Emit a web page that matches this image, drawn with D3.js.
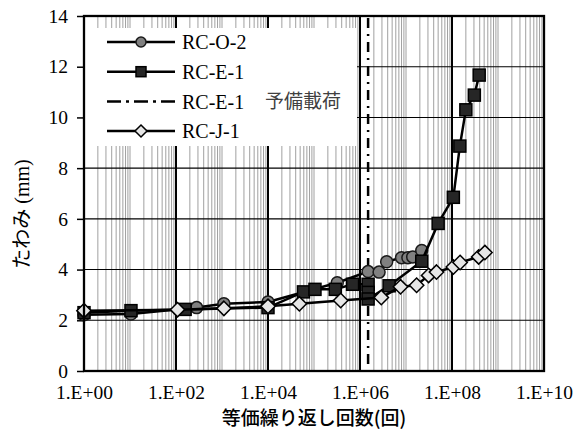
<!DOCTYPE html>
<html>
<head>
<meta charset="utf-8">
<script src="https://cdn.jsdelivr.net/npm/d3@7"></script>
<style>
  body { margin: 0; background: #fff; }
  svg { display: block; }
  .serif { font-family: "Liberation Serif", "Times New Roman", "DejaVu Serif", serif; }
  .sans { font-family: "Noto Sans CJK JP", "Noto Sans", sans-serif; }
</style>
</head>
<body>
<svg id="chart" width="576" height="432"></svg>
<script>
"use strict";

// RC-O-2 (gray circles)
var oN = [1, 10.5, 280, 1100, 1e4, 3.2e5, 1.5e6, 2.6e6, 3.8e6, 8e6, 1.1e7, 1.4e7, 2.2e7];
var oV = [2.22, 2.25, 2.5, 2.65, 2.72, 3.48, 3.92, 3.9, 4.31, 4.47, 4.47, 4.5, 4.75];
// RC-E-1 (dark squares)
var eN = [1, 10.5, 158, 1e4, 5.9e4, 1.05e5, 2.9e5, 6.9e5, 1.5e6, 1.5e6, 1.5e6, 4.3e6, 2.2e7, 5e7, 1.07e8, 1.48e8, 2e8, 3.06e8, 3.9e8];
var eV = [2.3, 2.38, 2.43, 2.5, 3.12, 3.22, 3.22, 3.42, 3.42, 3.1, 2.84, 3.36, 4.33, 5.82, 6.85, 8.87, 10.3, 10.88, 11.67];
// RC-J-1 (light diamonds)
var jN = [1, 108, 1100, 1e4, 4.8e4, 3.8e5, 2.9e6, 7.6e6, 1.7e7, 3.1e7, 4.6e7, 1.07e8, 1.5e8, 3.8e8, 5.2e8];
var jV = [2.38, 2.42, 2.47, 2.55, 2.65, 2.78, 2.9, 3.32, 3.38, 3.77, 3.9, 4.1, 4.28, 4.5, 4.67];
// RC-E-1 preload (vertical dash-dot)
var preN = 1.5e6;

var xTicks = [1, 1e2, 1e4, 1e6, 1e8, 1e10];
var yTicks = [0, 2, 4, 6, 8, 10, 12, 14];
var legendLabels = ["RC-O-2", "RC-E-1", "RC-E-1", "RC-J-1"];
var preLabel = "予備載荷";
var xTitle = "等価繰り返し回数(回)";

(() => {
    var svg = d3.select("#chart");
    var pl = 84, pr = 544, pt = 16, pb = 371;

    var x = d3.scaleLog().domain([1, 1e10]).range([pl, pr]);
    var y = d3.scaleLinear().domain([0, 14]).range([pb, pt]);

    // minor vertical grid
    var minor = [];
    for (var k = 0; k < 10; k++) {
        for (var m = 1; m <= 9; m++) {
            if (m === 1 && k % 2 === 0) continue;
            minor.push(m * Math.pow(10, k));
        }
    }
    svg.append("g").selectAll("line").data(minor).enter().append("line")
        .attr("x1", d => x(d)).attr("x2", d => x(d))
        .attr("y1", pt).attr("y2", pb)
        .attr("stroke", "#a0a0a0").attr("stroke-width", 1);

    // horizontal grid
    svg.append("g").selectAll("line").data(yTicks.slice(1, -1)).enter().append("line")
        .attr("x1", pl).attr("x2", pr)
        .attr("y1", d => y(d)).attr("y2", d => y(d))
        .attr("stroke", "#000").attr("stroke-width", 1.1);

    // major vertical grid
    svg.append("g").selectAll("line").data(xTicks.slice(1, -1)).enter().append("line")
        .attr("x1", d => x(d)).attr("x2", d => x(d))
        .attr("y1", pt).attr("y2", pb)
        .attr("stroke", "#000").attr("stroke-width", 2);

    // legend box (covers grid)
    svg.append("rect").attr("x", pl + 1).attr("y", 28).attr("width", 357 - pl - 1).attr("height", 118)
        .attr("fill", "#fff");

    // axes
    var yAxis = svg.append("g").attr("transform", "translate(" + pl + ",0)")
        .call(d3.axisLeft(y).tickValues(yTicks).tickSize(7).tickPadding(9));
    yAxis.attr("font-family", null).attr("font-size", null);
    yAxis.select(".domain").remove();
    yAxis.selectAll("line").attr("stroke", "#000").attr("stroke-width", 1.5);
    yAxis.selectAll("text").attr("class", "serif").style("font-size", "19.5px").attr("fill", "#000");

    var xAxis = svg.append("g").attr("transform", "translate(0," + pb + ")")
        .call(d3.axisBottom(x).tickValues(xTicks).tickSize(0).tickPadding(14)
            .tickFormat(d => "1.E+" + String(Math.round(Math.log10(d))).padStart(2, "0")));
    xAxis.attr("font-family", null).attr("font-size", null);
    xAxis.select(".domain").remove();
    xAxis.selectAll("text").attr("class", "serif").style("font-size", "19.5px").attr("fill", "#000");

    // preload dash-dot line
    svg.append("line")
        .attr("x1", x(preN)).attr("x2", x(preN)).attr("y1", pt + 2).attr("y2", pb)
        .attr("stroke", "#000").attr("stroke-width", 2.5)
        .attr("stroke-dasharray", "10,6,2,6");

    var line = d3.line().x(d => x(d[0])).y(d => y(d[1]));

    var series = [
        {n: oN, v: oV, shape: "circle", fill: "#808080"},
        {n: eN, v: eV, shape: "square", fill: "#262626"},
        {n: jN, v: jV, shape: "diamond", fill: "#e6e6e6"}
    ];

    var drawMarker = (g, shape, fill, s) => {
        if (shape === "circle") {
            g.append("circle").attr("r", s).attr("fill", fill).attr("stroke", "#1a1a1a").attr("stroke-width", 1.5);
        } else if (shape === "square") {
            g.append("rect").attr("x", -s).attr("y", -s).attr("width", 2 * s).attr("height", 2 * s)
                .attr("fill", fill).attr("stroke", "#000").attr("stroke-width", 1.5);
        } else {
            var r = s * 1.2;
            g.append("path").attr("d", "M0," + (-r) + "L" + r + ",0L0," + r + "L" + (-r) + ",0Z")
                .attr("fill", fill).attr("stroke", "#000").attr("stroke-width", 1.5);
        }
    };

    series.forEach(s => {
        var pts = s.n.map((n, i) => [n, s.v[i]]);
        svg.append("path").datum(pts).attr("d", line)
            .attr("fill", "none").attr("stroke", "#000").attr("stroke-width", 2.5);
        svg.append("g").selectAll("g").data(pts).enter().append("g")
            .attr("transform", d => "translate(" + x(d[0]) + "," + y(d[1]) + ")")
            .each(function() { drawMarker(d3.select(this), s.shape, s.fill, 6); });
    });

    // plot border
    svg.append("rect").attr("x", pl).attr("y", pt).attr("width", pr - pl).attr("height", pb - pt)
        .attr("fill", "none").attr("stroke", "#000").attr("stroke-width", 2.3);

    // legend
    var legRows = [42, 71.7, 101.5, 131];
    var legShapes = ["circle", "square", null, "diamond"];
    var legFills = ["#808080", "#262626", null, "#e6e6e6"];
    legRows.forEach((ly, i) => {
        var g = svg.append("g").attr("transform", "translate(0," + ly + ")");
        g.append("line").attr("x1", 107).attr("x2", 175).attr("y1", 0).attr("y2", 0)
            .attr("stroke", "#000").attr("stroke-width", 2.5)
            .attr("stroke-dasharray", legShapes[i] ? null : "14,5,3,5");
        if (legShapes[i]) {
            var mg = g.append("g").attr("transform", "translate(141,0)");
            drawMarker(mg, legShapes[i], legFills[i], 5);
        }
        g.append("text").attr("class", "serif").attr("x", 182).attr("y", 0).attr("dy", "0.35em")
            .style("font-size", "20px").text(legendLabels[i]);
    });
    svg.append("text").attr("class", "sans").attr("x", 265).attr("y", legRows[2]).attr("dy", "0.35em")
        .style("font-size", "19px").attr("fill", "#404040").text(preLabel);

    // axis titles
    svg.append("text").attr("class", "sans").attr("x", (pl + pr) / 2).attr("y", 425)
        .attr("text-anchor", "middle").style("font-size", "19px")
        .style("font-weight", 500).text(xTitle);

    var yt = svg.append("text").attr("transform", "translate(29,214) rotate(-90)")
        .attr("text-anchor", "middle");
    yt.append("tspan").attr("class", "sans").style("font-size", "20px").text("たわみ");
    yt.append("tspan").attr("class", "serif").style("font-size", "20px").text(" (mm)");
})();
</script>
</body>
</html>
